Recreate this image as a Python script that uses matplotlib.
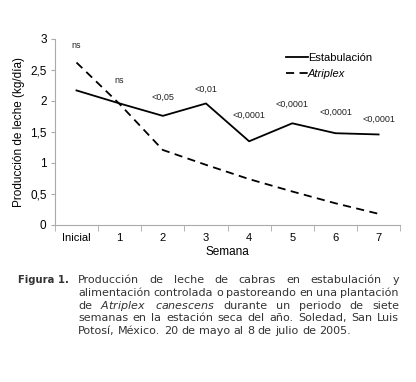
import numpy as np
import matplotlib.pyplot as plt

semanas = ['Inicial', '1', '2', '3', '4', '5', '6', '7']
estabulacion = [2.17, 1.96, 1.76, 1.96, 1.35, 1.64, 1.48, 1.46]
atriplex = [2.62, 1.95, 1.21, 0.97, 0.74, 0.54, 0.35, 0.18]
pvalores = ['ns', 'ns', '<0,05', '<0,01', '<0,0001', '<0,0001', '<0,0001', '<0,0001']
p_y = [2.9, 2.33, 2.06, 2.19, 1.77, 1.94, 1.82, 1.71]

caption_lines = [
    ['Producción', 'de', 'leche', 'de', 'cabras', 'en', 'estabulación', 'y'],
    ['alimentación', 'controlada', 'o', 'pastoreando', 'en', 'una', 'plantación'],
    ['de', '$\\it{Atriplex}$', '$\\it{canescens}$', 'durante', 'un', 'periodo', 'de', 'siete'],
    ['semanas', 'en', 'la', 'estación', 'seca', 'del', 'año.', 'Soledad,', 'San', 'Luis'],
    ['Potosí,', 'México.', '20', 'de', 'mayo', 'al', '8', 'de', 'julio', 'de', '2005.'],
]

plt.rcParams['font.family'] = ['Liberation Sans', 'DejaVu Sans']
plt.rcParams['mathtext.fontset'] = 'dejavusans'
fig = plt.figure(figsize=(4.16, 3.82), dpi=100)
ax = fig.add_axes([0.132, 0.411, 0.83, 0.487])

x = np.arange(len(semanas))
ax.plot(x, estabulacion, color='black', lw=1.3, label='Estabulación')
ax.plot(x, atriplex, color='black', lw=1.3, ls=(0, (4.5, 3)), label='Atriplex')

for xi, t, yi in zip(x, pvalores, p_y):
    ax.text(xi, yi, t, ha='center', va='center', fontsize=6.5, color='#222222')

ax.set_xlim(-0.5, 7.5)
ax.set_ylim(0, 3)
ax.set_xticks(x)
ax.set_xticklabels(semanas, fontsize=8)
ax.set_xticks(np.arange(-0.5, 8, 1), minor=True)
ax.tick_params(axis='x', which='major', length=0, pad=6)
ax.tick_params(axis='x', which='minor', length=4, color='#aaaaaa')
ax.set_yticks([0, 0.5, 1, 1.5, 2, 2.5, 3])
ax.set_yticklabels(['0', '0,5', '1', '1,5', '2', '2,5', '3'], fontsize=8.5)
ax.tick_params(axis='y', length=3, color='#aaaaaa', pad=3)
for s in ['top', 'right']:
    ax.spines[s].set_visible(False)
for s in ['left', 'bottom']:
    ax.spines[s].set_color('#aaaaaa')
    ax.spines[s].set_linewidth(0.8)

ax.set_xlabel('Semana', fontsize=8.5, labelpad=2)
ax.set_ylabel('Producción de leche (kg/día)', fontsize=8.5, labelpad=4)

leg = ax.legend(loc='upper right', bbox_to_anchor=(0.918, 0.924), frameon=False,
                fontsize=8, handlelength=2.0, handletextpad=0.0, labelspacing=0.5,
                borderaxespad=0, borderpad=0)
leg.get_texts()[1].set_fontstyle('italic')

# caption, justified
cap_fs = 8
fig.text(18 / 416, 1 - 280 / 382, 'Figura 1.', fontsize=7.2, fontweight='bold',
         family='DejaVu Sans', va='center', color='#333333')
fig.canvas.draw()
r = fig.canvas.get_renderer()
sp = fig.text(0, 0, 'a a', fontsize=cap_fs, family='DejaVu Sans')
sp_w = sp.get_window_extent(r).width
sa = fig.text(0, 0, 'aa', fontsize=cap_fs, family='DejaVu Sans')
sp_w -= sa.get_window_extent(r).width
sp.remove()
sa.remove()
x0, x1 = 78, 399
for i, words in enumerate(caption_lines):
    yy = 1 - (280 + i * 12.8) / 382
    txts = [fig.text(0, yy, w, fontsize=cap_fs, family='DejaVu Sans', va='center',
                     color='#333333') for w in words]
    widths = [t.get_window_extent(r).width for t in txts]
    if i < len(caption_lines) - 1:
        gap = (x1 - x0 - sum(widths)) / (len(words) - 1)
    else:
        gap = sp_w
    pos = x0
    for t, w in zip(txts, widths):
        t.set_x(pos / 416)
        pos += w + gap

fig.savefig('out.png', dpi=100)
